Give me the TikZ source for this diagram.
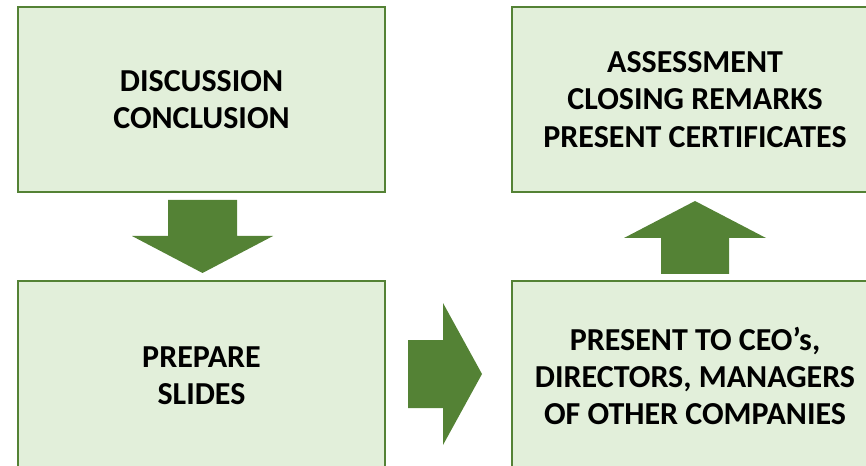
\documentclass[tikz,border=0pt]{standalone}
\usepackage{fontspec}
\setmainfont{Carlito}
\usetikzlibrary{positioning}

\definecolor{boxfill}{HTML}{E2EFDA}
\definecolor{boxline}{HTML}{548235}

\tikzset{
  stagebox/.style={draw=boxline, fill=boxfill, line width=1.5pt, align=center,
    font=\fontsize{24}{28}\selectfont\bfseries, inner sep=0pt},
  blockarrow/.style={fill=boxline, draw=none}
}

\begin{document}
\begin{tikzpicture}[x=0.75pt, y=-0.75pt]
				% Рамка рисунка
				\clip (0,0) rectangle (866,466);
				\useasboundingbox (0,0) rectangle (866,466);
				
				% Блоки этапов
				\node[stagebox, minimum width=275.25pt, minimum height=138.75pt] (discuss) at (201.5,99.5) {DISCUSSION\\CONCLUSION};
				\node[stagebox, minimum width=275.25pt, minimum height=142.5pt] (slides) at (201.5,376) {PREPARE\\SLIDES};
				\node[stagebox, minimum width=274.5pt, minimum height=142.5pt] (present) at (695,376) {PRESENT TO CEO’s,\\DIRECTORS, MANAGERS\\OF OTHER COMPANIES};
				\node[stagebox, minimum width=274.5pt, minimum height=138.75pt] (assess) at (695,99.5) {ASSESSMENT\\CLOSING REMARKS\\PRESENT CERTIFICATES};
				
				% Стрелки между блоками
				\fill[blockarrow] (168,200) -- (237,200) -- (237,236) -- (273,236) -- (202.5,273)
				  -- (132,236) -- (168,236) -- cycle;
				\fill[blockarrow] (408,340) -- (443,340) -- (443,303) -- (482,374) -- (443,445)
				  -- (443,408) -- (408,408) -- cycle;
				\fill[blockarrow] (661,274) -- (661,238) -- (624,238) -- (695,201) -- (766,238)
				  -- (729,238) -- (729,274) -- cycle;
			\end{tikzpicture}
\end{document}
